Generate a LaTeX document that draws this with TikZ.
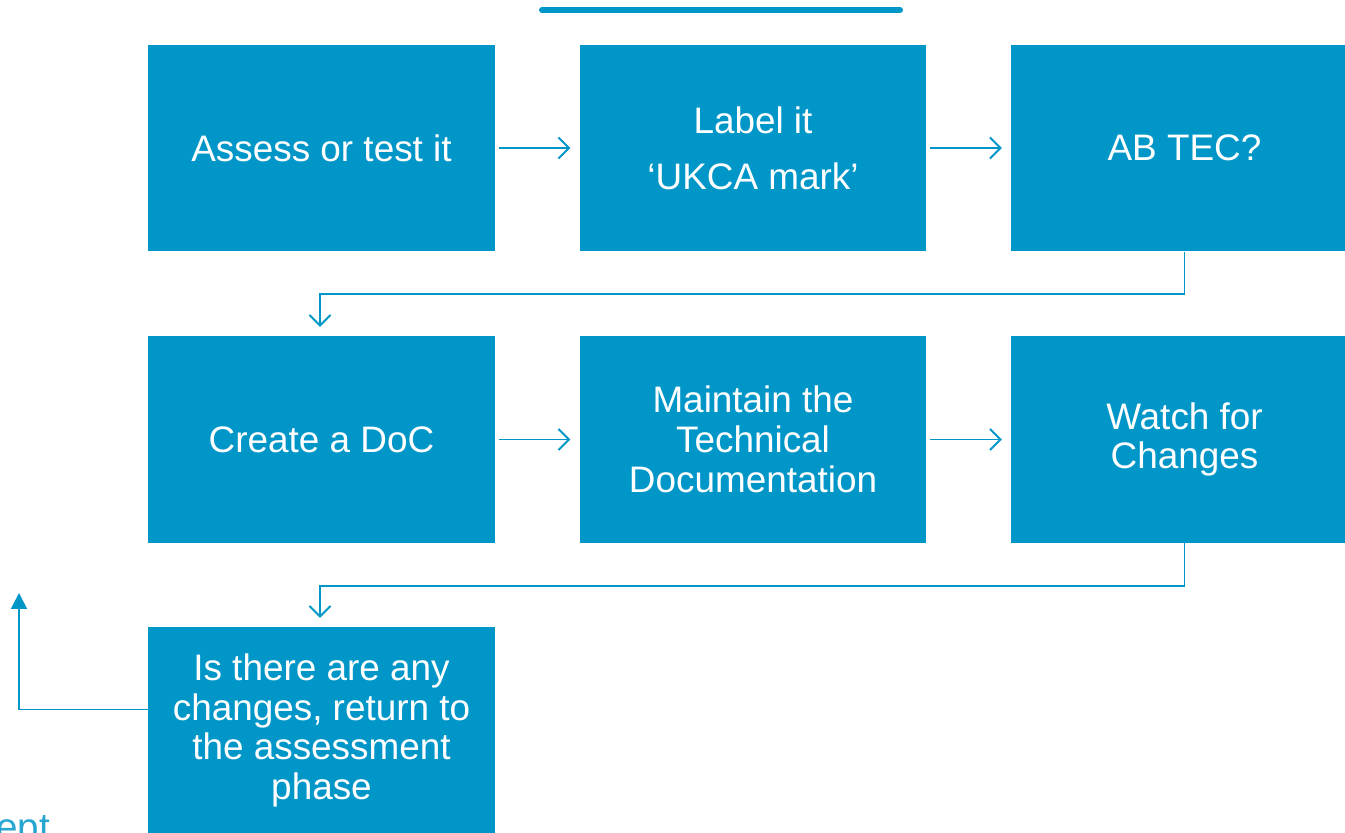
\documentclass[tikz,border=0pt]{standalone}
\usepackage{fontspec}
\setmainfont{Liberation Sans}
\usetikzlibrary{arrows.meta,positioning}

\definecolor{ukBlue}{RGB}{0,150,200}

\begin{document}
\begin{tikzpicture}[
    x=0.02cm,
    y=-0.02cm,
    >={Straight Barb[length=6pt,width=12pt]},
    stepBox/.style={fill=ukBlue,text=white,minimum width=6.94cm,minimum height=4.14cm,
                    inner sep=2pt,align=center,font=\fontsize{21}{22.7}\selectfont},
    flow/.style={->,draw=ukBlue,line width=1.1pt,shorten <=2pt,shorten >=5pt}
]
\clip (0,0) rectangle (1345,832);
\fill[white] (0,0) rectangle (1345,832);

\draw[ukBlue,line width=3.4pt,line cap=round] (542,10) -- (900,10);

\node[stepBox] (assessTest) at (321.5, 148.0) {Assess or test it};
\node[stepBox] (labelIt) at (753.0, 148.0) {Label it\\[9pt]‘UKCA mark’};
\node[stepBox] (abTec) at (1184.5, 148.0) {AB TEC?};

\node[stepBox] (createDoc) at (321.5, 439.5) {Create a DoC};
\node[stepBox] (maintainDoc) at (753.0, 439.5) {Maintain the\\Technical\\Documentation};
\node[stepBox] (watchChanges) at (1184.5, 439.5) {Watch for\\Changes};

\node[stepBox] (anyChanges) at (321.5, 730.5) {Is there are any\\changes, return to\\the assessment\\phase};

\node[anchor=base west,text=ukBlue!85,inner sep=0pt,font=\fontsize{22}{22}\selectfont] (eptText) at (-4, 840) {ept};

% -- row edges --
\draw[flow] (assessTest) -- (labelIt);
\draw[flow] (labelIt) -- (abTec);
\draw[flow] (createDoc) -- (maintainDoc);
\draw[flow] (maintainDoc) -- (watchChanges);

% -- down edges --
\coordinate (bendOne) at (753, 294);
\coordinate (bendTwo) at (753, 586);
\draw[flow,shorten <=0pt] (abTec.south) |- (bendOne) -| ([xshift=-0.03cm]createDoc.north);
\draw[flow,shorten <=0pt] (watchChanges.south) |- (bendTwo) -| ([xshift=-0.03cm]anyChanges.north);

% -- return edge --
\coordinate (returnTip) at (19, 593);
\draw[draw=ukBlue,line width=1.1pt,-{Triangle[length=9pt,width=9pt]}] ([yshift=0.42cm]anyChanges.west) -| (returnTip);

\end{tikzpicture}
\end{document}
